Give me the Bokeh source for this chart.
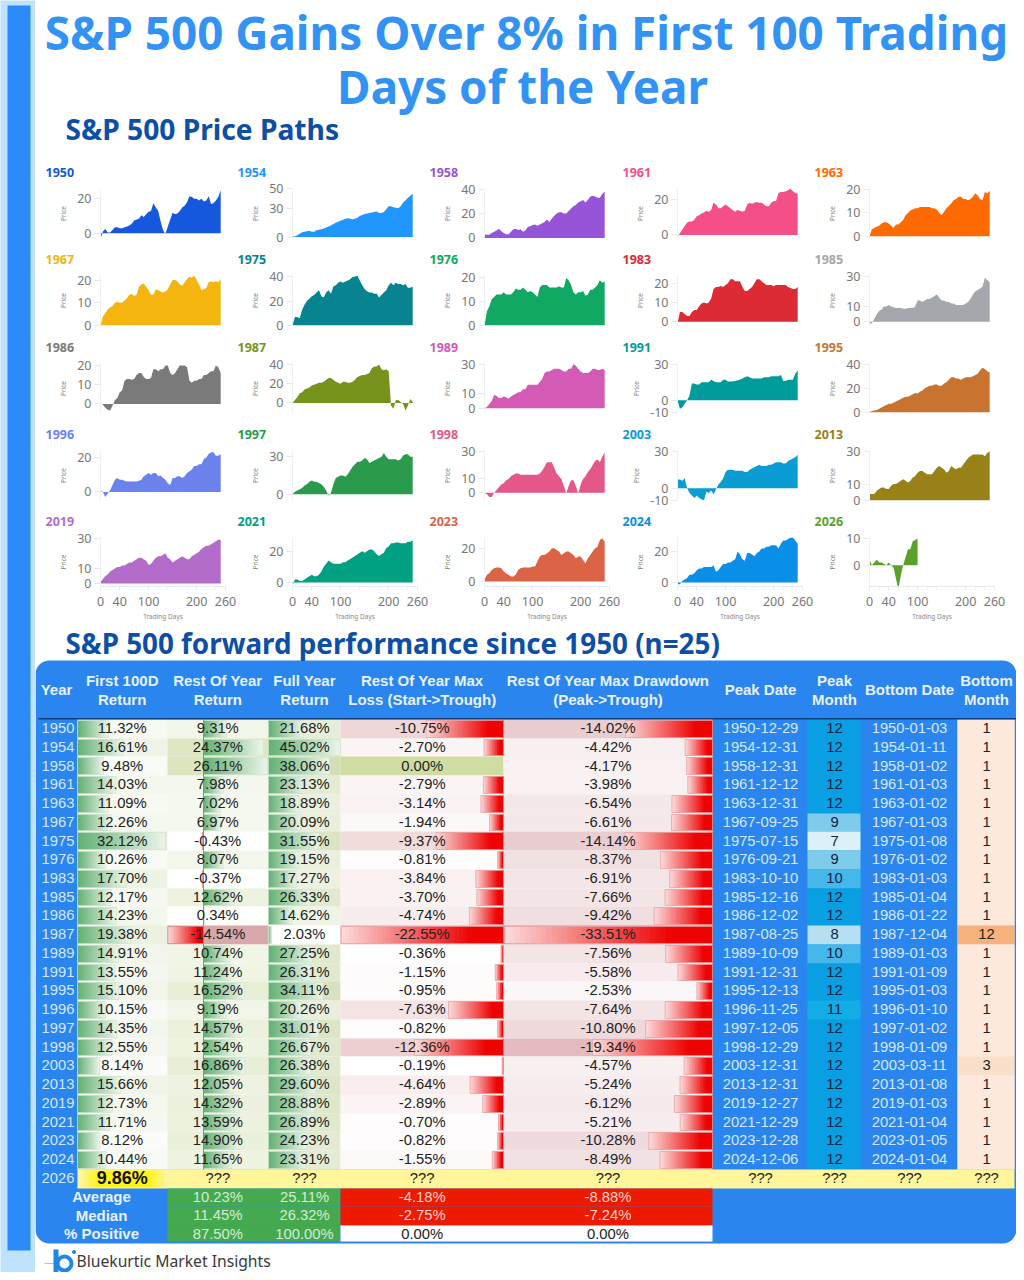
from bokeh.embed import file_html
from bokeh.resources import INLINE
from bokeh.plotting import figure
from bokeh.layouts import row, column
from bokeh.models import Range1d, FixedTicker, BoxAnnotation
from bokeh.core.properties import value

TITLE_LINES = ["S&P 500 Gains Over 8% in First 100 Trading", "Days of the Year"]
SUB_PATHS = "S&P 500 Price Paths"
SUB_TABLE = "S&P 500 forward performance since 1950 (n=25)"
BRAND = "Bluekurtic Market Insights"

DAYS = [0,5,10,15,20,25,30,35,40,45,50,55,60,65,70,75,80,85,90,95,100,105,110,115,120,125,130,135,140,145,
        150,155,160,165,170,175,180,185,190,195,200,205,210,215,220,225,230,235,240,245,250]
P1950 = [-3,1,2.5,0.5,0.5,2,3.5,3.5,3,3, 3.5,4,4.5,5.5,7.5,8,8.5,10.5,9.5,11, 12.5,13,17.5,15,13,7,2,-0.5,4,8, 12,11,11.5,13,15,16,18,21.5,21,20, 20,19,20,18.5,19,21.5,17,17.5,19,21, 25]
P1954 = [1,0.5,2,3.5,5,5.5,6,6.5,5.5,5.5, 7,7.5,8,9,10,11,12,13.5,15,16, 17,18,19,19.5,19,18.5,19,20,22,23, 24,24.5,25,25.5,26,26.5,25,25,26,29, 32,32,31,30.5,30,32,36,38,41,43, 45]
P1958 = [3,2.5,2.5,4,5,6,7.5,5.5,4,3, 3,5,7,7.5,6.5,7,5,6,9,9.5, 10.5,11,10,11,12,13,15,13,16,18, 20,21,21,20,20,22,24,26,27,29, 30,31,29,31,34,34.5,34,33,33,36, 38]
P1961 = [-1,1,3,5,7,7.5,7.5,8.5,10.5,11, 12,12.5,13.5,13,14,18,17,15,15,16, 17,16,15,14,13,14,13.5,13,13.5,17, 18,17.5,18,18.5,18,18,17,16,16,18, 19,19,23.5,24,24,24.5,25,26,24.5,23.5, 23]
P1963 = [0,3,3.5,4,4.5,5.5,6,6,5.5,4.5, 3.5,5,5,6,7,9,10,11,11.5,12, 12,12.5,12.5,12.5,12.5,12.5,12,12,11.5,10, 9,10.5,12,13,14,15.5,16,17,17,16, 16,15.5,16,17,18.5,17.5,16,15.5,19,18.5, 19.5]
P1967 = [0,4,5.5,7,8,8.5,10,10.5,10,10, 11,12,13.5,14,13,13.5,17,18,18.5,17, 15.5,13.5,13.5,16,15.5,15,14.5,15,16,18, 20,20,19.5,18,17.5,19,20.5,21.5,21,22, 20,18,15.5,16,16.5,19,19.5,19,19.5,19, 20.5]
P1975 = [0,7,7,6,13,17,20,22,24,25, 27,29,24,23,27,29,26,32,33,35, 36,35,36,37,38,40,40,41,37,33, 30,28,27,27,26,26,23,25,27,29, 33,35,33,35,34,34,33,34,31,31, 32]
P1976 = [0,6,8,11,12,13,13,13,14,13, 13,13,14,15.5,15,15,16,15,14,14.5, 14,13,12,16,17,17,17,16,16,16, 16,16.5,16,16,20,19,17,14,13,14, 14,14.5,12.5,13,15,15,16,17,19,18, 18.5]
P1983 = [-1,5,5,4,3,3,5,6,6,8, 9.5,10,9.5,10,12,17,18,18,18.5,18, 19,20,22,22,21,21,21,18,16,16, 17,18,20,22,22,21,20,19,19,19, 18.5,19,19,19,19,19,18,17.5,17,17, 18]
P1985 = [-1.5,-1,2,5,7,8,10,10,11,10, 9.5,9,9,9,8.5,8.5,9,9,9,10, 14,14,13,14,15,15,16,17,18,16, 14,14,13,13,12,12,11,11,11,11, 12,13,15,18,20,21,22,23,29,27.5, 26]
P1986 = [0.5,-0.5,-2,-3,-3.5,-1,2,3,6,7, 12,13,13,12.5,13,15,16,16,14,13, 13,13.5,18,18,17,18,18,20,20,16, 15,16,18,20,20,20,19,12,11,12, 12,13,13,15,15,16,17,17,20,19, 16]
P1987 = [0,3,6,10,11,14,15,16,18,19, 20,21,21,22,24,26,26,24,22,21, 20,22,22,21,21,22,24,27,28,29, 29,30,31,36,38,38,40,35,34,35, 33,-3,-6,3,3,1,-1,-8,-3,4, 1]
P1989 = [0,1,3,5,9,8.5,7,7,8,7.5, 6.5,8,9,10,11,11,13,13,16,16, 16,16,16,18,20,24,25,25,26,27, 27,27,26,25,25,27,27,30,29,27, 25,24,24,24,25,27,27,26,26,27, 26]
P1991 = [0,-7,-6,-3,0,4,14,14,13,13, 15,15,15,15,17,16,15,15,15,17, 17,15.5,15.5,15.5,16,16.5,17,18,19,20, 19,18,18,18,18,18,19,19,19,20, 20,20,20,21,16,16,17,17,17,22, 25]
P1995 = [0,1,1.5,2,3,4,5,6,7,7, 8,9,10,11,12,13,13,14,15,16, 15.5,17,18,20,21,22,22,23,23,22, 22,24,25,27,29,29,28,28,27,28, 29,29,29,30,31,32,35,37,36,34, 33]
P1996 = [0.5,0,-3,-1,1,4,7,8,7,7, 6.5,6,6,6,6,6,6.5,7,9,10, 11,10,11,11,9,9.5,8,7,5,4, 8,8,9,9,8,9,11,12,13,15, 15,16,16,19,20,22,23,23,21,21, 22]
P1997 = [0,2,3,4,5,7,8,10,11,10, 10,9,8,6,3,-1,1,8,13,14, 15,15,14,16,19,22,24,26,26,27, 29,28,25,26,27,28,29,30,33,30, 28,28,28,28,27,28,31,32,32,30, 30]
P1998 = [0,-1,-3,-3,0,2,4,6,7,9, 10,12,13,14,14,13,13,13,13,13, 13,13,13,14,16,19,22,22,22,18, 14,12,10,5,-0.5,5,9,9,5,-0.5, 6,10,12,15,17,20,23,24,22,26, 29]
P2003 = [7,7,6,8,0,-4,-6,-8,-6,-8, -9,-10,-3,-4,-2,-5,-1,3,5,8, 13,15,15,15,14,14,14,14,13,13, 15,16,17,18,19,18,18,18,19,19, 20,21,21,21,20,20,22,23,24,25, 27]
P2013 = [4,4,4,6,7,8,8,7,7,9, 10,10,11,12,13,12,11,12,14,15, 17,18,18,17,16,16,16,18,20,21, 20,19,17,18,21,20,19,20,20,22, 24,26,27,28,28,28,28,28,27,29, 30]
P2019 = [1,3,5,6,8,9,10,11,11,12, 12,13,14,14,15,16,17,17,16,15, 12.5,13,15,17,18,18,19,20,17,16, 14,15,16,17,18,17,16,16,18,19, 20,21,23,24,25,25,26,27,28,29, 29]
P2021 = [-2,2,2,1,1,2,3,4,5,4, 4,5,7,10,12,14,13,12,12,12, 12,13,13,14,15,16,17,18,19,20, 19,20,21,21,20,18,17,18,19,22, 23,25,25,25.5,25.5,25,25,25,26,26, 27]
P2023 = [1,4,5,7,8,8.5,8.5,8,6,5, 4,3,3,4,7,8,8.5,8.5,8.5,8.5, 9,9,12,15,16,16,17,18,20,20, 19,18,16,17,18,18,17,16,14,15, 15,13,11,14,16,18,20,21,25,26, 24]
P2024 = [-1,-1,1,2,3,5,5,6,8,9, 9,10,10,10,10,11,7,8,10,12, 12,13,13,14,15,20,18,15,14,19, 19,18,17,19,20,22,22,23,23,24, 24,24,22,25,27,27,28,29,29,27, 25]
P2026 = [2,0,1,2,1, 1,0.5,0,1,0, -1,-5,-9,-4,0, 3,6,6,9,9.5, 10]

PANEL_YEARS = [1950,1954,1958,1961,1963,1967,1975,1976,1983,1985,1986,1987,1989,1991,1995,1996,1997,1998,2003,2013,2019,2021,2023,2024,2026]
PANEL_VALUES = [P1950,P1954,P1958,P1961,P1963,P1967,P1975,P1976,P1983,P1985,P1986,P1987,P1989,P1991,P1995,P1996,P1997,P1998,P2003,P2013,P2019,P2021,P2023,P2024,P2026]
PANEL_COLORS = ["#1557dd","#2196ff","#9655d8","#f44f8b","#ff6a00","#f4b50f","#078490","#10a862","#dc2b35","#a4a7ab",
                "#7a7a7a","#76941c","#d35ab5","#009c9c","#c87430","#6b82ec","#2a9a4c","#e4578a","#0a9dd4","#988218",
                "#b46ccb","#00a083","#dc6446","#0a8fe8","#5ca02c"]
PANEL_YTICKS = [[0,20],[0,30,50],[0,20,40],[0,20],[0,10,20],[0,10,20],[0,20,40],[0,10,20],[0,10,20],[0,10,30],
                [0,10,20],[0,20,40],[0,10,30],[-10,0,30],[0,20,40],[0,20],[0,30],[0,10,30],[-10,0,30],[0,10,30],
                [0,10,30],[0,20],[0,20],[0,20],[0,10]]
PANEL_YLIMS = [(-3,26),(-1.5,50.5),(-0.5,40.5),(-2,26),(-1,20.5),(0,22),(0,41),(0,21),(-2,24),(-2.5,30.5),
               (-5,21),(-11,41),(-3.5,30.5),(-11,30.5),(-1,40.5),(-5,24),(-5,35),(-5.5,30.5),(-10,30.5),(0,30.5),
               (-2,30.5),(-2.5,28.7),(-3,26.5),(-2.5,29),(-8,10.4)]
X_TICKS = [0,40,100,200,260]
X_MINOR = [20,60,80,120,140,160,180,220,240]

TABLE_YEARS = [1950,1954,1958,1961,1963,1967,1975,1976,1983,1985,1986,1987,1989,1991,1995,1996,1997,1998,2003,2013,2019,2021,2023,2024]
FIRST_100D = [11.32,16.61,9.48,14.03,11.09,12.26,32.12,10.26,17.70,12.17,14.23,19.38,14.91,13.55,15.10,10.15,14.35,12.55,8.14,15.66,12.73,11.71,8.12,10.44]
REST_RET = [9.31,24.37,26.11,7.98,7.02,6.97,-0.43,8.07,-0.37,12.62,0.34,-14.54,10.74,11.24,16.52,9.19,14.57,12.54,16.86,12.05,14.32,13.59,14.90,11.65]
FULL_RET = [21.68,45.02,38.06,23.13,18.89,20.09,31.55,19.15,17.27,26.33,14.62,2.03,27.25,26.31,34.11,20.26,31.01,26.67,26.38,29.60,28.88,26.89,24.23,23.31]
MAX_LOSS = [-10.75,-2.70,0.00,-2.79,-3.14,-1.94,-9.37,-0.81,-3.84,-3.70,-4.74,-22.55,-0.36,-1.15,-0.95,-7.63,-0.82,-12.36,-0.19,-4.64,-2.89,-0.70,-0.82,-1.55]
MAX_DD = [-14.02,-4.42,-4.17,-3.98,-6.54,-6.61,-14.14,-8.37,-6.91,-7.66,-9.42,-33.51,-7.56,-5.58,-2.53,-7.64,-10.80,-19.34,-4.57,-5.24,-6.12,-5.21,-10.28,-8.49]
PEAK_DATES = ["1950-12-29","1954-12-31","1958-12-31","1961-12-12","1963-12-31","1967-09-25","1975-07-15","1976-09-21","1983-10-10","1985-12-16","1986-12-02","1987-08-25","1989-10-09","1991-12-31","1995-12-13","1996-11-25","1997-12-05","1998-12-29","2003-12-31","2013-12-31","2019-12-27","2021-12-29","2023-12-28","2024-12-06"]
PEAK_MONTHS = [12,12,12,12,12,9,7,9,10,12,12,8,10,12,12,11,12,12,12,12,12,12,12,12]
BOTTOM_DATES = ["1950-01-03","1954-01-11","1958-01-02","1961-01-03","1963-01-02","1967-01-03","1975-01-08","1976-01-02","1983-01-03","1985-01-04","1986-01-22","1987-12-04","1989-01-03","1991-01-09","1995-01-03","1996-01-10","1997-01-02","1998-01-09","2003-03-11","2013-01-08","2019-01-03","2021-01-04","2023-01-05","2024-01-04"]
BOTTOM_MONTHS = [1,1,1,1,1,1,1,1,1,1,1,12,1,1,1,1,1,1,3,1,1,1,1,1]
CURRENT_YEAR = 2026
CURRENT_FIRST = 9.86
UNKNOWN = "???"
SUMMARY_LABELS = ["Average","Median","% Positive"]
SUMMARY_REST = ["10.23%","11.45%","87.50%"]
SUMMARY_FULL = ["25.11%","26.32%","100.00%"]
SUMMARY_LOSS = ["-4.18%","-2.75%","0.00%"]
SUMMARY_DD = ["-8.88%","-7.24%","0.00%"]
HEADERS = [("Year",),("First 100D","Return"),("Rest Of Year","Return"),("Full Year","Return"),
           ("Rest Of Year Max","Loss (Start->Trough)"),("Rest Of Year Max Drawdown","(Peak->Trough)"),
           ("Peak Date",),("Peak","Month"),("Bottom Date",),("Bottom","Month")]

# ---------- layout constants (screen pixels of the reference)
SANS = "Noto Sans"
ARIAL = "Liberation Sans"
BLUE = "#2a86ee"
EDGES = [35,77,167,268,340,503,712,807,860,957,1014]
CENTERS = [56,121.7,217.3,304,421.7,607.5,760,834,909,986]
ROW_TOP = 719.0
ROW_H = 18.74

def hex2rgb(c):
    return tuple(int(c[i:i+2],16) for i in (1,3,5))
def lerp(c0,c1,t):
    t = max(0,min(1,t))
    a,b = hex2rgb(c0),hex2rgb(c1)
    return "#%02x%02x%02x" % tuple(round(a[i]+(b[i]-a[i])*t) for i in range(3))

# ---------- stripe
stripe = figure(width=35,height=1272,x_range=Range1d(0,35),y_range=Range1d(1272,0),
                output_backend="svg",toolbar_location=None,x_axis_location=None,y_axis_location=None,
                min_border=0,outline_line_color=None,background_fill_color="#bfe3fd",border_fill_color="#bfe3fd")
stripe.grid.visible = False
stripe.quad(left=[7],right=[30],top=[5],bottom=[1250],fill_color="#2b8cf9",line_color=None)

# ---------- header
header = figure(width=981,height=158,x_range=Range1d(35,1016),y_range=Range1d(158,0),
                output_backend="svg",toolbar_location=None,x_axis_location=None,y_axis_location=None,
                min_border=0,outline_line_color=None)
header.grid.visible = False
header.text(x=[526,522],y=[31,85],text=TITLE_LINES,text_font=value(SANS),text_font_style="bold",text_font_size="45.8px",
            text_color="#3393f5",text_align="center",text_baseline="middle")
header.text(x=[65],y=[128],text=[SUB_PATHS],text_font=value(SANS),text_font_style="bold",text_font_size="28.2px",
            text_color="#0d4ea6",text_align="left",text_baseline="middle")

# ---------- small multiples
COL_WIDTHS = [203,192,193,192,201]
COL_LEFT = [65,54,54,54,54]
TITLE_X = [45,237,429,622,814]
ROW_HEIGHTS = [87,88,87,87,116]
ROW_TOPS = [158,245,333,420,507]
STRIP_H = 22
def panel(i):
    r,c = divmod(i,5)
    bottom_row = r==4
    w,h = COL_WIDTHS[c],ROW_HEIGHTS[r]-STRIP_H
    left = COL_LEFT[c]
    p = figure(width=w,height=h,x_range=Range1d(0,260),y_range=Range1d(*PANEL_YLIMS[i]),
               output_backend="svg",toolbar_location=None,
               min_border_left=left,min_border_right=w-left-125,min_border_top=8,min_border_bottom=h-8-50,
               outline_line_color=None,x_axis_label="Trading Days" if bottom_row else None,y_axis_label="Price")
    p.grid.visible = False
    v = PANEL_VALUES[i]
    p.varea(x=DAYS[:len(v)],y1=[0]*len(v),y2=v,fill_color=PANEL_COLORS[i])
    ya = p.yaxis[0]
    ya.ticker = FixedTicker(ticks=PANEL_YTICKS[i])
    ya.major_label_overrides = {-10:"-10"}
    ya.axis_line_color = "#edf0f5"
    ya.major_tick_line_color = "#e6e9ef"
    ya.major_tick_out = 6
    ya.major_tick_in = 0
    ya.minor_tick_line_color = None
    ya.major_label_text_font = SANS
    ya.major_label_text_font_size = "12.5px"
    ya.major_label_text_color = "#777777"
    ya.major_label_standoff = 3
    ya.axis_label_text_font = SANS
    ya.axis_label_text_font_size = "6.5px"
    ya.axis_label_text_font_style = "normal"
    ya.axis_label_text_color = "#888888"
    ya.axis_label_standoff = 6
    xa = p.xaxis[0]
    if bottom_row:
        xa.ticker = FixedTicker(ticks=X_TICKS,minor_ticks=X_MINOR)
        xa.axis_line_color = "#e6e9ef"
        xa.major_tick_line_color = "#e6e9ef"
        xa.minor_tick_line_color = "#eef0f4"
        xa.major_tick_out = 4
        xa.major_tick_in = 0
        xa.minor_tick_out = 4
        xa.minor_tick_in = 0
        xa.major_label_text_font = SANS
        xa.major_label_text_font_size = "12.5px"
        xa.major_label_text_color = "#777777"
        xa.major_label_standoff = 6
        xa.axis_label_text_font = SANS
        xa.axis_label_text_font_size = "6.5px"
        xa.axis_label_text_font_style = "normal"
        xa.axis_label_text_color = "#888888"
        xa.axis_label_standoff = 3
    else:
        xa.visible = False
    return p
def strip(r):
    top = ROW_TOPS[r]
    s = figure(width=981,height=STRIP_H,x_range=Range1d(35,1016),y_range=Range1d(top+STRIP_H,top),
               output_backend="svg",toolbar_location=None,x_axis_location=None,y_axis_location=None,
               min_border=0,outline_line_color=None)
    s.grid.visible = False
    s.text(x=TITLE_X,y=[top+13.5]*5,text=[str(y) for y in PANEL_YEARS[r*5:r*5+5]],text_font=value(SANS),
           text_font_style="bold",text_font_size="12.5px",text_color=PANEL_COLORS[r*5:r*5+5],
           text_align="left",text_baseline="middle")
    return s
panel_rows = [column([strip(r),row([panel(r*5+c) for c in range(5)],spacing=0)],spacing=0) for r in range(5)]

# ---------- table
T = figure(width=981,height=649,x_range=Range1d(35,1016),y_range=Range1d(1272,623),
           output_backend="svg",toolbar_location=None,x_axis_location=None,y_axis_location=None,
           min_border=0,outline_line_color=None)
T.grid.visible = False
T.text(x=[65],y=[642],text=[SUB_TABLE],text_font=value(SANS),text_font_style="bold",text_font_size="27.8px",
       text_color="#0d4ea6",text_align="left",text_baseline="middle")
T.add_layout(BoxAnnotation(left=35,right=1016,top=660,bottom=1243,fill_color=BLUE,fill_alpha=1,
                           line_alpha=0,border_radius=14,level="underlay"))

def rt(i): return round(ROW_TOP+i*ROW_H)
def rb(i): return round(ROW_TOP+(i+1)*ROW_H)
def rc(i): return ROW_TOP+(i+0.5)*ROW_H

n = len(TABLE_YEARS)
# column bases, so that no blue shows between the cells
T.quad(left=[EDGES[1],EDGES[7],EDGES[9]],right=[EDGES[6],EDGES[8],EDGES[10]],top=ROW_TOP,bottom=rb(n-1),
       fill_color=["#f8f8f5","#0a9fe2","#fde8dc"],line_color=None)

cl,cr,ct,cb,cc = [],[],[],[],[]
def cell(l,r,t,b,c):
    cl.append(l);cr.append(r);ct.append(t);cb.append(b);cc.append(c)
MAX_POS,MAX_NEG = max(REST_RET),-min(REST_RET)
MAX_L,MAX_D = -min(MAX_LOSS),-min(MAX_DD)
PEAK_COL = {12:"#0a9fe2",11:"#13ace6",10:"#45b7ea",9:"#7fcbec",8:"#b6dff1",7:"#dcf0f7"}
BOT_COL = {1:"#fde8dc",3:"#fbe0c9",12:"#f6b27a"}
for i in range(n):
    t,b = rt(i),rb(i)
    cell(EDGES[1],EDGES[2],t,b,lerp("#fbfcfa","#e6eed6",(FIRST_100D[i]-8)/16))
    v = REST_RET[i]
    cell(EDGES[2],EDGES[3],t,b,lerp("#ffffff","#dbe6bf",v/MAX_POS) if v>=0 else lerp("#ffffff","#d9a8ab",-v/MAX_NEG if -v>1 else 0))
    cell(EDGES[3],EDGES[4],t,b,lerp("#ffffff","#d3dfb6",(FULL_RET[i]-2)/36))
    v = MAX_LOSS[i]
    cell(EDGES[4],EDGES[5],t,b,"#cfdda3" if v==0 else lerp("#ffffff","#e0a8a8",-v/MAX_L))
    cell(EDGES[5],EDGES[6],t,b,lerp("#ffffff","#cc8890",-MAX_DD[i]/MAX_D))
    cell(EDGES[7],EDGES[8],t,b,PEAK_COL[PEAK_MONTHS[i]])
    cell(EDGES[9],EDGES[10],t,b,BOT_COL[BOTTOM_MONTHS[i]])
# current-year row
cell(EDGES[1],EDGES[10],rt(n),rb(n),"#fff59a")
# summary rows
sum_bottom = 1241
for k in range(3):
    t,b = rt(n+1+k),(rb(n+1+k) if k<2 else sum_bottom)
    cell(EDGES[2],EDGES[4],t,b,"#45a94f")
    cell(EDGES[4],EDGES[6],t,b,"#ee1a00" if k<2 else "#ffffff")
T.quad(left=cl,right=cr,top=ct,bottom=cb,fill_color=cc,line_color=None)

# gradient data bars, painted from the light end so that no seams show
gl,gr,gt,gb,gc = [],[],[],[],[]
ol,or_,ot,ob,oc = [],[],[],[],[]
def bar(x0,x1,i,c0,c1,border=None,ease=1.0):
    """x0 is the light end, x1 the dark end"""
    seg = max(3,min(40,int(abs(x1-x0)/1.5)))
    t,b = rt(i)+1,rb(i)-1
    for s in range(seg):
        a = x0+(x1-x0)*s/seg
        gl.append(min(a,x1));gr.append(max(a,x1));gt.append(t);gb.append(b)
        gc.append(lerp(c0,c1,(s+0.5)/seg/ease))
    if border:
        ol.append(min(x0,x1));or_.append(max(x0,x1));ot.append(t);ob.append(b);oc.append(border)
GREEN_D,GREEN_L = "#62b074","#edf5ea"
RED_L,RED_D = "#fbdcdc","#ee0303"
ZERO_X = EDGES[2]+36
for i in range(n):
    bar(EDGES[1]+FIRST_100D[i]*2.74,EDGES[1],i,GREEN_L,GREEN_D,"#cfe4cf")
    v = REST_RET[i]
    if v>=0:
        bar(ZERO_X+v*2.45,ZERO_X,i,GREEN_L,GREEN_D,"#d3e6d0")
    else:
        bar(ZERO_X+v*2.45,ZERO_X,i,RED_L,RED_D,"#d08a8a",0.85)
    bar(EDGES[3]+FULL_RET[i]*1.6,EDGES[3],i,GREEN_L,GREEN_D,"#cfe4cf")
    v = MAX_LOSS[i]
    if v<0:
        bar(EDGES[5]+v*7.2,EDGES[5],i,RED_L,RED_D,"#e7a4a6",0.8)
    bar(EDGES[6]+MAX_DD[i]*6.2,EDGES[6],i,RED_L,RED_D,"#e7a4a6",0.8)
T.quad(left=gl,right=gr,top=gt,bottom=gb,fill_color=gc,line_color=None)
T.quad(left=ol,right=or_,top=ot,bottom=ob,fill_color=None,line_color=oc,line_width=0.8)
# current-year highlight bar
yl,yr,yc = [],[],[]
for s in range(20):
    yl.append(EDGES[1]+6+s*4);yr.append(EDGES[1]+6+(s+1)*4+0.4)
    yc.append(lerp("#fff59a","#fff31a",min(1,min(s+1,20-s)/4)))
T.quad(left=yl,right=yr,top=rt(n)+1,bottom=rb(n)-1,fill_color=yc,line_color=None)
# zero axis of the rest-of-year column and header rule
T.segment(x0=[ZERO_X],x1=[ZERO_X],y0=[ROW_TOP],y1=[rb(n-1)],line_color="#7d9a80",line_width=1)
T.segment(x0=[38],x1=[1016],y0=[718.3],y1=[718.3],line_color="#0c3f80",line_width=1.6)

def txt(xs,ys,ss,color,size="14.8px",style="normal",align="center"):
    T.text(x=xs,y=[y-0.8 for y in ys],text=ss,text_font=value(ARIAL),text_font_size=size,text_font_style=style,
           text_color=color,text_align=align,text_baseline="middle")

# header cells
hx,hy,hs = [],[],[]
for cx,lines in zip(CENTERS,HEADERS):
    if len(lines)==1:
        hx.append(cx);hy.append(689.5);hs.append(lines[0])
    else:
        hx += [cx,cx];hy += [680.5,699.5];hs += list(lines)
txt(hx,hy,hs,"#e6f1fd","15px","bold")

ys = [rc(i) for i in range(n)]
fmt = lambda vals:[f"{v:.2f}%" for v in vals]
txt([74]*(n+1),ys+[rc(n)],[str(y) for y in TABLE_YEARS]+[str(CURRENT_YEAR)],"#d3e6fb",align="right")
DARK = "#222222"
txt([CENTERS[1]]*n,ys,fmt(FIRST_100D),DARK)
txt([CENTERS[2]]*n,ys,fmt(REST_RET),DARK)
txt([CENTERS[3]]*n,ys,fmt(FULL_RET),DARK)
txt([CENTERS[4]]*n,ys,fmt(MAX_LOSS),DARK)
txt([CENTERS[5]]*n,ys,fmt(MAX_DD),DARK)
txt([CENTERS[6]]*n,ys,PEAK_DATES,"#d3e6fb")
txt([CENTERS[7]]*n,ys,[str(v) for v in PEAK_MONTHS],"#10233f")
txt([CENTERS[8]]*n,ys,BOTTOM_DATES,"#d3e6fb")
txt([CENTERS[9]]*n,ys,[str(v) for v in BOTTOM_MONTHS],DARK)
# current row
txt([CENTERS[1]],[rc(n)],[f"{CURRENT_FIRST:.2f}%"],"#111111","18px","bold")
txt(CENTERS[2:],[rc(n)]*8,[UNKNOWN]*8,DARK,"14.8px")
# summary rows
sy = [rc(n+1),rc(n+2),rc(n+3)-0.3]
txt([101]*3,sy,SUMMARY_LABELS,"#e6f1fd","15px","bold")
txt([CENTERS[2]]*3,sy,SUMMARY_REST,"#d6ecd6")
txt([CENTERS[3]]*3,sy,SUMMARY_FULL,"#d6ecd6")
txt([CENTERS[4]]*2,sy[:2],SUMMARY_LOSS[:2],"#fbd5d0")
txt([CENTERS[5]]*2,sy[:2],SUMMARY_DD[:2],"#fbd5d0")
txt([CENTERS[4],CENTERS[5]],[sy[2]]*2,[SUMMARY_LOSS[2],SUMMARY_DD[2]],DARK)

# brand mark
T.segment(x0=[44],x1=[56],y0=[1263],y1=[1263],line_color="#9fc6ef",line_width=1)
T.quad(left=[53],right=[58],top=[1249],bottom=[1272],fill_color="#1f86e8",line_color=None)
T.annulus(x=[64],y=[1263],inner_radius=5,outer_radius=9,fill_color="#1f86e8",line_color=None)
T.circle(x=[73.5],y=[1251.5],radius=2,fill_color="#1f86e8",line_color=None)
T.text(x=[76],y=[1260.5],text=[BRAND],text_font=value(SANS),text_font_size="15.7px",text_color="#3a3a3a",
       text_align="left",text_baseline="middle")

page = row([stripe,column([header]+panel_rows+[T],spacing=0)],spacing=0)
open("out.html","w").write(file_html(page,INLINE,"S&P 500"))
